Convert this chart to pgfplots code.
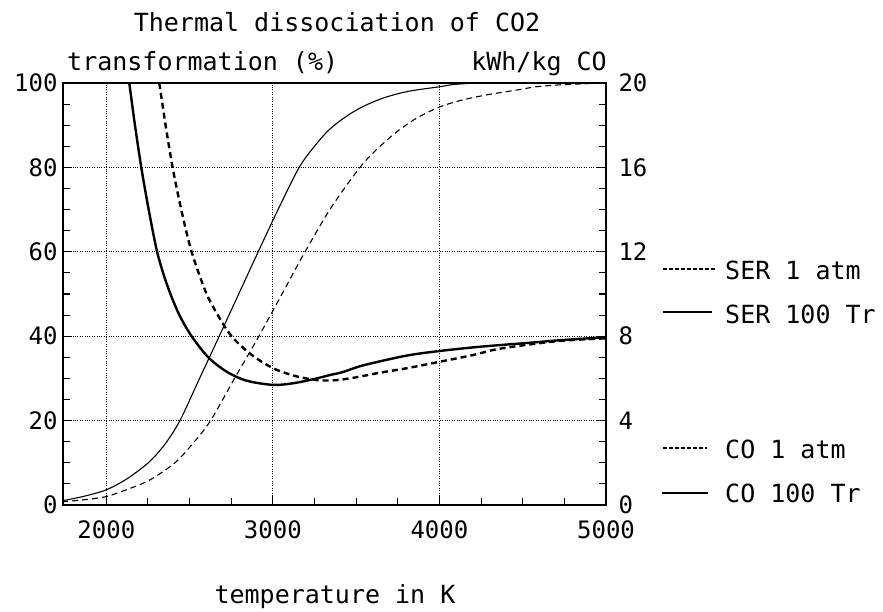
\documentclass[border=0pt]{standalone}
\usepackage{fontspec}
\setmainfont{DejaVu Sans Mono}
\usepackage{pgfplots}
\pgfplotsset{compat=1.18}

\begin{document}
\begin{tikzpicture}[x=1pt,y=1pt,font=\fontsize{25}{30}\selectfont]
\useasboundingbox (0,0) rectangle (883,612);

% common frame settings
\pgfplotsset{
  frame/.style={
    at={(63pt,107pt)}, anchor=south west,
    scale only axis, width=543pt, height=422pt,
    xmin=1740, xmax=5000,
    tick align=inside,
    major tick length=9pt, minor tick length=7pt,
    axis line style={line width=1.6pt},
    every tick/.style={line width=1.1pt, black},
    tick label style={font=\fontsize{24}{24}\selectfont},
    /pgf/number format/assume math mode=true,
    /pgf/number format/set thousands separator={},
  }
}

% left axis: transformation (%) -> CO curves
\begin{axis}[frame,
    ymin=0, ymax=100,
    xtick={2000,3000,4000,5000},
    ytick={0,20,40,60,80,100},
    minor x tick num=3, minor y tick num=3,
    xtick pos=bottom, ytick pos=left,
    grid=major,
    grid style={dotted, line width=0.9pt, black},
    xticklabel style={yshift=-12pt},
    yticklabel style={xshift=-2pt},
]
% CO 100 Tr (thin solid)
\addplot[black, line width=1.1pt, smooth, tension=0.5] coordinates {
 (1740,1.0) (1750,1.1) (1870,2.1) (2000,3.6) (2120,6.1) (2252,10.0) (2350,14.3)
 (2442,20.0) (2560,30.0) (2678,40.0) (2795,50.0) (2912,60.0) (3025,69.5)
 (3158,80.0) (3260,85.5) (3340,89.0) (3430,91.8) (3530,94.2) (3660,96.4)
 (3810,98.0) (4000,99.1) (4100,99.7) (4300,100) (5000,100)
};
% CO 1 atm (thin dashed)
\addplot[black, line width=1.1pt, dash pattern=on 6pt off 4pt, smooth, tension=0.5] coordinates {
 (1740,0.7) (1750,0.8) (1880,1.3) (2000,2.0) (2120,3.6) (2260,5.9) (2412,10.0)
 (2520,14.6) (2626,20.0) (2770,30.0) (2916,40.0) (3055,50.0) (3193,60.0)
 (3350,70.5) (3523,80.0) (3630,84.5) (3740,88.3) (3860,91.6) (4000,94.3)
 (4140,96.0) (4300,97.3) (4460,98.3) (4580,99.1) (4740,99.6) (5000,100)
};
\end{axis}

% right axis: kWh/kg CO -> SER curves
\begin{axis}[frame,
    ymin=0, ymax=20,
    hide x axis,
    axis y line*=right,
    ytick={0,4,8,12,16,20},
    minor y tick num=3,
    yticklabel style={xshift=9pt},
]
% SER 100 Tr (thick solid): held at the top, then falling
\addplot[black, line width=2.4pt] coordinates {(1740,20) (2138,20)};
\addplot[black, line width=2.4pt, smooth, tension=0.5] coordinates {
 (2138,20) (2172,18.0) (2210,16.0) (2252,14.1) (2302,12.1) (2345,10.9)
 (2390,9.9) (2442,8.95) (2512,8.0) (2612,7.0) (2722,6.32) (2843,5.89)
 (3002,5.69) (3122,5.77) (3242,5.96) (3343,6.16) (3420,6.30) (3543,6.62)
 (3803,7.08) (4003,7.30) (4243,7.50) (4543,7.69) (4743,7.82) (5000,7.95)
};
% SER 1 atm (thick dashed)
\addplot[black, line width=2.4pt, dash pattern=on 6pt off 4pt] coordinates {(1740,20) (2318,20)};
\addplot[black, line width=2.4pt, dash pattern=on 6pt off 4pt, smooth, tension=0.5] coordinates {
 (2318,20) (2358,17.9) (2398,16.0) (2450,14.0) (2512,12.0) (2597,10.1)
 (2662,9.1) (2752,8.0) (2873,7.11) (3002,6.48) (3122,6.14) (3242,5.94)
 (3343,5.90) (3463,6.00) (3643,6.27) (3803,6.48) (4003,6.79) (4203,7.11)
 (4343,7.38) (4543,7.61) (4743,7.79) (5000,7.90)
};
\end{axis}

% titles and axis names
\node at (337,590) {Thermal dissociation of CO2};
\node[anchor=base west, inner sep=0pt] at (67,541) {transformation (\%)};
\node[anchor=base east, inner sep=0pt] at (607,541) {kWh/kg CO};
\node at (335,15) {temperature in K};

% legend
\draw[line width=2.0pt, dash pattern=on 4pt off 2pt] (663,343) -- (715,343);
\node[anchor=west, inner sep=0pt] at (725,342) {SER 1 atm};
\draw[line width=2.4pt] (663,300) -- (712,300);
\node[anchor=west, inner sep=0pt] at (725,298) {SER 100 Tr};
\draw[line width=1.1pt, dash pattern=on 4pt off 2pt] (663,164) -- (707,164);
\node[anchor=west, inner sep=0pt] at (725,163) {CO 1 atm};
\draw[line width=1.1pt] (662,119) -- (708,119);
\node[anchor=west, inner sep=0pt] at (725,119) {CO 100 Tr};
\end{tikzpicture}
\end{document}
